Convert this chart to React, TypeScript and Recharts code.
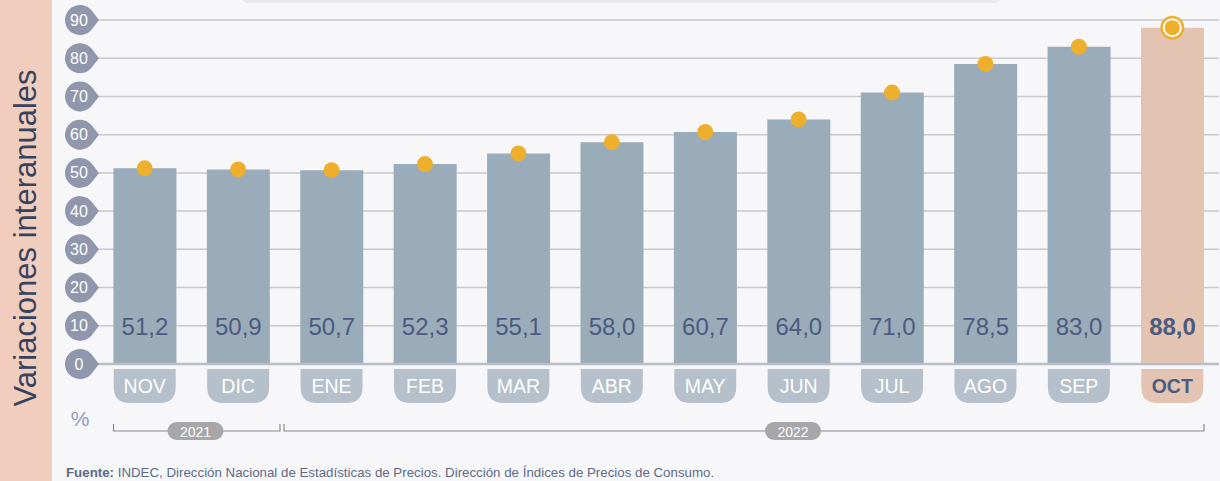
import React from 'react';
import { ComposedChart, Bar, Line, XAxis, YAxis, CartesianGrid, Cell, LabelList } from 'recharts';

const months = ['NOV', 'DIC', 'ENE', 'FEB', 'MAR', 'ABR', 'MAY', 'JUN', 'JUL', 'AGO', 'SEP', 'OCT'];
const values = [51.2, 50.9, 50.7, 52.3, 55.1, 58.0, 60.7, 64.0, 71.0, 78.5, 83.0, 88.0];
const yTicks = [0, 10, 20, 30, 40, 50, 60, 70, 80, 90];

const W = 1220;
const H = 481;
const FONT = '"Liberation Sans", Arial, sans-serif';
const BAR = '#9aabb9';
const BAR_HI = '#e3c3b1';
const DOT = '#eeb02c';
const INK = '#4b5b80';

const data = months.map((m, i) => ({ month: m, value: values[i] }));
const last = months.length - 1;

function YBadge(props: any) {
    const { y, payload } = props;
    const cx = 80;
    const r = 15;
    const a = (40 * Math.PI) / 180;
    // teardrop: circle with a point to the right
    const path = `M ${cx + r * Math.cos(a)} ${y - r * Math.sin(a)} L ${cx + 19} ${y} L ${cx + r * Math.cos(a)} ${y + r * Math.sin(a)} A ${r} ${r} 0 1 1 ${cx + r * Math.cos(a)} ${y - r * Math.sin(a)} Z`;
    return (
        <g>
            <path d={path} fill="#9097ad" />
            <text x={cx - 1} y={y} textAnchor="middle" dominantBaseline="central" fill="#fff" fontSize={16} fontFamily={FONT}>
                {payload.value}
            </text>
        </g>
    );
}

function XTab(props: any) {
    const { x, payload, index } = props;
    const top = 369;
    const w = 62;
    const h = 34;
    const r = 16;
    const l = x - w / 2;
    const isLast = index === last;
    const path = `M ${l} ${top} H ${l + w} V ${top + h - r} Q ${l + w} ${top + h} ${l + w - r} ${top + h} H ${l + r} Q ${l} ${top + h} ${l} ${top + h - r} Z`;
    return (
        <g>
            <path d={path} fill={isLast ? BAR_HI : '#b6c0ca'} />
            <text x={x} y={top + h / 2} textAnchor="middle" dominantBaseline="central"
                fill={isLast ? INK : '#fff'} fontSize={19.5} fontWeight={isLast ? 700 : 400} fontFamily={FONT}>
                {payload.value}
            </text>
        </g>
    );
}

function ValueLabel(props: any) {
    const { x, y, width, height, value, index } = props;
    return (
        <text x={x + width / 2} y={y + height - 38} textAnchor="middle" dominantBaseline="central"
            fill={INK} fontSize={24} fontWeight={index === last ? 700 : 400} fontFamily={FONT}>
            {value.toFixed(1).replace('.', ',')}
        </text>
    );
}

function Dot(props: any) {
    const { cx, cy, index } = props;
    if (index === last) {
        return (
            <g key={index}>
                <circle cx={cx} cy={cy} r={12} fill={DOT} />
                <circle cx={cx} cy={cy} r={9.5} fill="#fff" />
                <circle cx={cx} cy={cy} r={7.5} fill={DOT} />
            </g>
        );
    }
    return <circle key={index} cx={cx} cy={cy} r={8} fill={DOT} />;
}

function YearPill({ cx, label }: { cx: number; label: string }) {
    return (
        <g>
            <rect x={cx - 28} y={422} width={56} height={18} rx={9} fill="#a7a7a9" />
            <text x={cx} y={431.5} textAnchor="middle" dominantBaseline="central" fill="#fff" fontSize={14} fontFamily={FONT}>
                {label}
            </text>
        </g>
    );
}

export default function App() {
    return (
        <div style={{ position: 'absolute', left: 0, top: 0, width: W, height: H, background: '#f7f7fa', overflow: 'hidden' }}>
            <div style={{ position: 'absolute', left: 0, top: 0, width: 52, height: H, background: '#f1cdbd' }} />
            <div style={{ position: 'absolute', left: 241, top: -10, width: 760, height: 13, background: '#e9eaee', borderRadius: 8 }} />
            <div style={{ position: 'absolute', left: 0, top: 0 }}>
                <ComposedChart width={W} height={H} data={data} margin={{ top: 20, right: 1, bottom: 0, left: 0 }} barCategoryGap="16.5%">
                    <CartesianGrid vertical={false} stroke="#c9c9cd" strokeWidth={1.5} />
                    <YAxis domain={[0, 90]} ticks={yTicks} width={98} axisLine={false} tickLine={false} tick={<YBadge />} interval={0} />
                    <XAxis dataKey="month" height={117} axisLine={{ stroke: '#b9bdc8', strokeWidth: 2.5 }} tickLine={false} tick={<XTab />} interval={0} />
                    <Bar dataKey="value" isAnimationActive={false}>
                        {data.map((d, i) => (
                            <Cell key={d.month} fill={i === last ? BAR_HI : BAR} />
                        ))}
                        <LabelList dataKey="value" content={<ValueLabel />} />
                    </Bar>
                    <Line dataKey="value" stroke="none" isAnimationActive={false} dot={<Dot />} activeDot={false} />
                </ComposedChart>
            </div>
            <svg width={W} height={H} style={{ position: 'absolute', left: 0, top: 0, pointerEvents: 'none' }}>
                <text transform="translate(36 238) rotate(-90)" textAnchor="middle" fill="#35435f" fontSize={31} fontFamily={FONT}>
                    Variaciones interanuales
                </text>
                <text x={80} y={426} textAnchor="middle" fill="#8d9cc4" fontSize={21} fontFamily={FONT}>%</text>
                <g stroke="#8a8a8c" strokeWidth={1.2} fill="none">
                    <polyline points="113.5,424 113.5,431 280,431 280,424" />
                    <polyline points="284,424 284,431 1204,431 1204,424" />
                </g>
                <YearPill cx={195.5} label="2021" />
                <YearPill cx={793} label="2022" />
                <text x={66} y={477} fill="#5d6b88" fontSize={13.3} fontFamily={FONT}>
                    <tspan fontWeight={700}>Fuente:</tspan> INDEC, Dirección Nacional de Estadísticas de Precios. Dirección de Índices de Precios de Consumo.
                </text>
            </svg>
        </div>
    );
}
